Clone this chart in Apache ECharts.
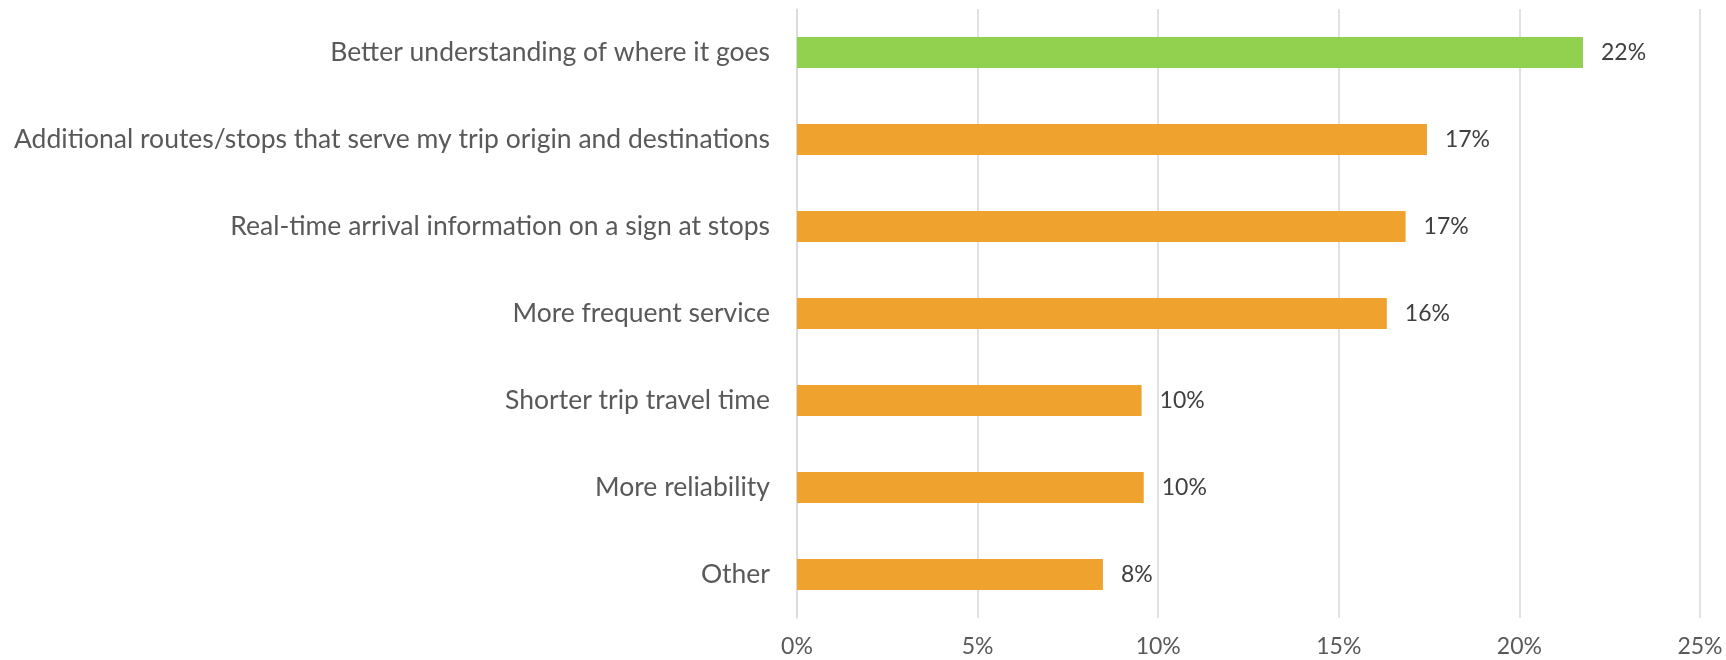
<!DOCTYPE html>
<html>
<head>
<meta charset="utf-8">
<script src="https://cdn.jsdelivr.net/npm/echarts@6/dist/echarts.min.js"></script>
<style>
  html, body { margin: 0; padding: 0; background: #fff; }
  #chart { width: 1726px; height: 660px; }
</style>
</head>
<body>
<div id="chart"></div>
<script>
// categories top to bottom
var categories = [
  'Better understanding of where it goes',
  'Additional routes/stops that serve my trip origin and destinations',
  'Real-time arrival information on a sign at stops',
  'More frequent service',
  'Shorter trip travel time',
  'More reliability',
  'Other'
];
var values = [21.76, 17.44, 16.85, 16.33, 9.54, 9.6, 8.47];
var barColors = ['#92D050', '#F0A22F', '#F0A22F', '#F0A22F', '#F0A22F', '#F0A22F', '#F0A22F'];
var xTicks = [0, 5, 10, 15, 20, 25];

var chart = echarts.init(document.getElementById('chart'));

var barData = [];
for (var i = 0; i < values.length; i++) {
  barData.push({ value: values[i], itemStyle: { color: barColors[i] } });
}

var option = {
  animation: false,
  grid: {
    left: 797,
    right: 26,
    top: 9,
    bottom: 42,
    containLabel: false
  },
  xAxis: {
    type: 'value',
    min: xTicks[0],
    max: xTicks[xTicks.length - 1],
    interval: 5,
    axisLine: { show: false },
    axisTick: { show: false },
    splitLine: { lineStyle: { color: '#D9D9D9', width: 1.5 } },
    axisLabel: {
      formatter: '{value}%',
      color: '#595959',
      fontFamily: 'Lato',
      fontSize: 23,
      margin: 17
    }
  },
  yAxis: {
    type: 'category',
    inverse: true,
    data: categories,
    axisLine: { show: true, lineStyle: { color: '#D9D9D9', width: 1.5 } },
    axisTick: { show: false },
    axisLabel: {
      color: '#595959',
      fontFamily: 'Lato',
      fontSize: 26.5,
      margin: 27
    }
  },
  series: [
    {
      type: 'bar',
      data: barData,
      barWidth: 31,
      label: {
        show: true,
        position: 'right',
        distance: 18,
        color: '#404040',
        fontFamily: 'Lato',
        fontSize: 23,
        formatter: function(p){ return Math.round(p.value) + '%'; }
      }
    }
  ]
};

chart.setOption(option);
</script>
</body>
</html>
